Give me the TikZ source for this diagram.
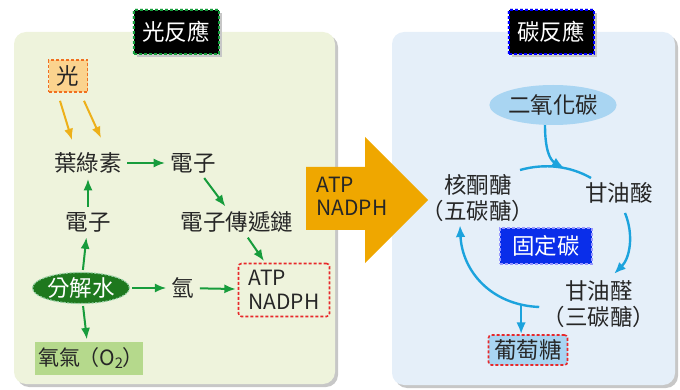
\documentclass[tikz,border=0pt]{standalone}
\usepackage{fontspec}
\setmainfont{Noto Sans CJK TC}
\usetikzlibrary{arrows.meta,shapes.geometric}
\definecolor{ink}{HTML}{262626}
\definecolor{leafbg}{HTML}{EEF3DC}
\definecolor{skybg}{HTML}{E5EFF9}
\definecolor{arrgreen}{HTML}{179C3C}
\definecolor{sunline}{HTML}{EDB01A}
\definecolor{sunfill}{HTML}{FBD38E}
\definecolor{sunedge}{HTML}{F07020}
\definecolor{gold}{HTML}{EFA700}
\definecolor{waterfill}{HTML}{1E781E}
\definecolor{oxfill}{HTML}{B5D98C}
\definecolor{cyanline}{HTML}{1CA3DD}
\definecolor{paleblue}{HTML}{A9D5F2}
\definecolor{fixblue}{HTML}{0A2EEA}
\definecolor{dashred}{HTML}{E8282A}

\begin{document}
\begin{tikzpicture}[x=1pt,y=-1pt,
font=\fontsize{22.5}{26}\selectfont,text=ink,
shadowed/.style={preaction={fill=black!22,transform canvas={xshift=3pt,yshift=-3pt}}},
panel/.style={shadowed,rounded corners=12pt},
dbox/.style 2 args={fill=#1,draw=#2,dash pattern=on 3pt off 2pt,line width=1.6pt},
title/.style={shadowed,dbox={black}{#1},line width=2pt,preaction={draw=white!80!#1,line width=3pt},
  text=white,minimum width=85pt,minimum height=44pt,inner sep=2pt},
garr/.style={-{Latex[length=4mm,width=3.2mm]},draw=arrgreen,line width=2pt,shorten >=2pt,shorten <=2pt},
yarr/.style={-{Latex[length=4mm,width=3.2mm]},draw=sunline,line width=2pt},
bline/.style={draw=cyanline,line width=2.4pt},
barr/.style={bline,-{Latex[length=4.2mm,width=3.4mm]}}]
\useasboundingbox (0,0) rectangle (680,390);

% panels
\fill[panel,leafbg] (14,32) rectangle (335,384);
\fill[panel,skybg] (392,32) rectangle (675,385);
\node[title=arrgreen] (lighttitle) at (176,32) {光反應};
\node[title=blue] (carbtitle) at (551,32) {碳反應};

% light reactions
\node[dbox={sunfill}{sunedge},minimum width=39pt,minimum height=32pt,inner sep=0pt] (light) at (68,76) {光};
\node (chl) at (88,163) {葉綠素};
\node (etop) at (193,163) {電子};
\node (etc) at (237,222) {電子傳遞鏈};
\node (eleft) at (88,222) {電子};
\node[ellipse,fill=waterfill,draw=arrgreen!45,dash pattern=on 2pt off 1.5pt,line width=1.2pt,
  text=white,minimum width=97pt,minimum height=31pt,inner sep=0pt] (water) at (81,288) {分解水};
\node (hyd) at (183,288) {氫};
\node[draw=dashred,dash pattern=on 3pt off 2pt,line width=1.6pt,rounded corners=3pt,
  align=left,font=\fontsize{21}{24}\selectfont,minimum width=91pt,minimum height=53pt] (atp) at (284,290) {ATP\\NADPH};
\node[fill=oxfill,minimum width=108pt,minimum height=33pt,inner sep=0pt,
  font=\fontsize{21}{24}\selectfont] (oxy) at (89,358) {氧氣\kern-2pt（O\textsubscript{2}\kern-1pt）\kern-4pt};

\draw[yarr] ([xshift=-8pt,yshift=-8pt]light.south) -- ([xshift=-16pt,yshift=9pt]chl.north);
\draw[yarr] ([xshift=16pt,yshift=-8pt]light.south) -- ([xshift=13pt,yshift=11pt]chl.north);
\draw[garr] (chl) -- (etop);
\draw[garr] (etop) -- (etc);
\draw[garr] (etc) -- (atp);
\draw[garr] (eleft) -- (chl);
\draw[garr] (water) -- (eleft);
\draw[garr] (water) -- (hyd);
\draw[garr] (hyd) -- (atp);
\draw[garr] (water) -- (oxy);

% transfer arrow
\fill[gold] (306,167) -- (365,167) -- (365,137) -- (428,200) -- (365,263) -- (365,230) -- (306,230) -- cycle;
\node[align=left,font=\fontsize{21}{23}\selectfont] (carry) at (352,196) {ATP\\NADPH};

% carbon reactions
\node[ellipse,fill=paleblue,minimum width=110pt,minimum height=40pt,inner sep=0pt] (co2) at (553,105) {二氧化碳};
\node[align=center] (rubp) at (478,198) {核酮醣\\（五碳醣）};
\node (pga) at (619,193) {甘油酸};
\node[dbox={fixblue}{white!60!blue},text=white,minimum width=92pt,minimum height=36pt,inner sep=0pt] (fix) at (546,246) {固定碳};
\node[align=center] (g3p) at (599,304) {甘油醛\\（三碳醣）};
\node[dbox={paleblue}{dashred},rounded corners=3pt,minimum width=79pt,minimum height=30pt,inner sep=0pt] (glc) at (528,350) {葡萄糖};

\coordinate (arcstart) at (520,170);
\coordinate (arcend) at (591,178);
\coordinate (arcmeet) at (564,168);
\draw[bline] (arcstart) .. controls (545,163) and (570,166) .. (arcend);
\draw[barr] ([xshift=-8pt]co2.south) .. controls (545,150) and (550,160) .. (arcmeet);
\draw[barr] ([xshift=6pt,yshift=-6pt]pga.south) .. controls (634,235) and (630,258) .. ([xshift=15pt,yshift=3pt]g3p.north);
\draw[barr] ([yshift=-3pt]g3p.west) .. controls (490,305) and (462,270) .. ([xshift=-18pt]rubp.south)
  coordinate[pos=0.13] (split);
\draw[barr] (split) -- (split |- glc.north);
\end{tikzpicture}
\end{document}
